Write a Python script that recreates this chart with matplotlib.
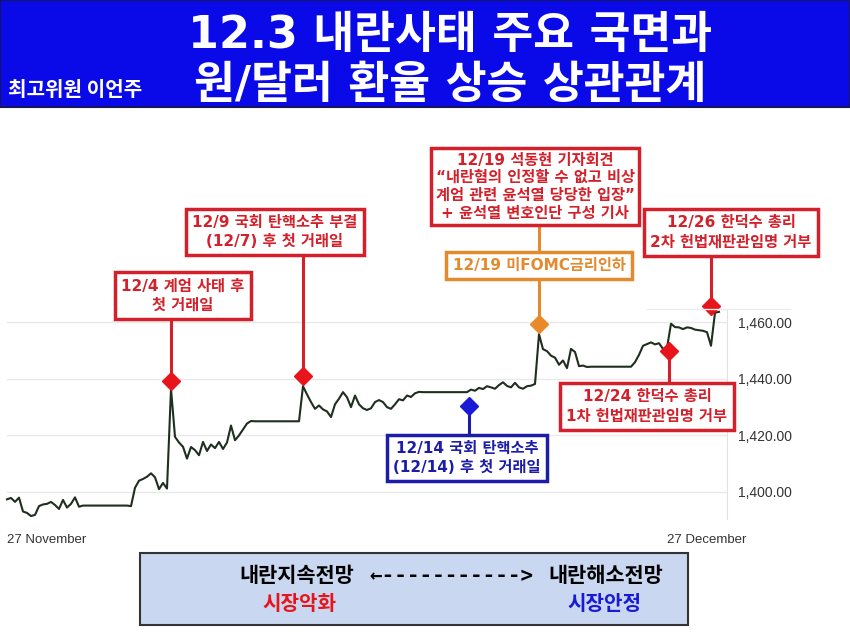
import numpy as np
import matplotlib
matplotlib.use("Agg")
from matplotlib import pyplot as plt
from matplotlib.patches import Rectangle
from matplotlib.lines import Line2D

plt.rcParams['font.family'] = ['Noto Sans CJK KR', 'DejaVu Sans']
WIDE = ['DejaVu Sans', 'Noto Sans CJK KR']   # wider digits / spaces, Hangul from Noto

# USD/KRW rate, 27 Nov -> 27 Dec (even sampling, weekends flat)
rate = [
    1397.4, 1397.9, 1396.5, 1398.0, 1393.1, 1392.6, 1391.5, 1391.9, 1395.0, 1395.6,
    1395.8, 1396.5, 1395.4, 1394.0, 1397.2, 1394.5, 1395.8, 1398.1, 1394.8, 1395.2,
    1395.2, 1395.2, 1395.2, 1395.2, 1395.2, 1395.2, 1395.2, 1395.2, 1395.2, 1395.2,
    1395.2, 1395.0, 1401.5, 1404.0, 1404.6, 1405.4, 1406.6, 1405.2, 1401.0, 1403.2,
    1401.2, 1436.5, 1419.5, 1417.5, 1416.0, 1411.8, 1415.9, 1414.8, 1413.0, 1417.7,
    1414.5, 1416.8, 1415.5, 1417.7, 1415.2, 1417.5, 1423.5, 1418.3, 1420.0, 1422.1,
    1424.2, 1425.1, 1425.0, 1425.0, 1425.0, 1425.0, 1425.0, 1425.0, 1425.0, 1425.0,
    1425.0, 1425.0, 1425.0, 1425.0, 1437.4, 1434.5, 1431.8, 1429.4, 1430.6, 1429.2,
    1428.5, 1426.5, 1431.0, 1433.0, 1435.3, 1433.5, 1430.0, 1434.1, 1431.0, 1429.6,
    1429.0, 1429.6, 1431.8, 1432.5, 1431.8, 1430.0, 1429.4, 1431.0, 1432.8, 1432.4,
    1434.1, 1433.6, 1434.9, 1435.4, 1435.3, 1435.3, 1435.3, 1435.3, 1435.3, 1435.3,
    1435.3, 1435.3, 1435.3, 1435.3, 1435.3, 1435.3, 1436.2, 1435.8, 1436.8, 1436.4,
    1437.4, 1437.0, 1436.5, 1437.8, 1438.8, 1437.5, 1437.0, 1438.6, 1437.0, 1436.5,
    1437.4, 1437.6, 1438.2, 1455.8, 1450.5, 1449.8, 1448.2, 1447.5, 1445.0, 1446.5,
    1443.8, 1450.6, 1449.5, 1444.5, 1444.7, 1444.2, 1444.3, 1444.3, 1444.3, 1444.3,
    1444.3, 1444.3, 1444.3, 1444.3, 1444.3, 1444.3, 1444.3, 1445.9, 1448.5, 1451.7,
    1452.3, 1452.9, 1452.2, 1452.6, 1450.6, 1451.0, 1459.5, 1458.3, 1458.2, 1457.6,
    1458.2, 1458.0, 1457.4, 1457.2, 1457.0, 1456.5, 1451.7, 1463.4, 1463.7,
]

y_ticks = [1400, 1420, 1440, 1460]
x_tick_pos = [0, 175]
x_tick_labels = ['27 November', '27 December']

# events: sample index and marker level
event_x = [41, 74, 115.5, 133, 165.5, 176]
event_y = [1439.4, 1440.9, 1430.3, 1459.5, 1449.7, 1465.8]
event_text = [
    '12/4 계엄 사태 후\n첫 거래일',
    '12/9 국회 탄핵소추 부결\n(12/7) 후 첫 거래일',
    '12/14 국회 탄핵소추\n(12/14) 후 첫 거래일',
    '12/19 미FOMC금리인하',
    '12/24 한덕수 총리\n1차 헌법재판관임명 거부',
    '12/26 한덕수 총리\n2차 헌법재판관임명 거부',
]
news_text = ('12/19 석동현 기자회견\n“내란혐의 인정할 수 없고 비상\n'
             '계엄 관련 윤석열 당당한 입장”\n+ 윤석열 변호인단 구성 기사')

RED = '#d3202a'
ORANGE = '#e3892e'
BLUE = '#1c1ca8'
event_color = [RED, RED, BLUE, ORANGE, RED, RED]
marker_color = ['#e8141c', '#e8141c', '#1a1ad6', '#e8892a', '#e8141c', '#e8141c']
# box centres (x index, y level)
box_pos = [(44, 1469.5), (67, 1492.0), (115, 1412.0), (133, 1480.0), (160, 1430.3), (181, 1491.8)]

W, H = 850, 637
fig = plt.figure(figsize=(W / 100, H / 100), dpi=100)

def fx(px):
    return px / W

def fy(py):
    return 1 - py / H

# header
fig.add_artist(Rectangle((0, fy(107)), 1, 107 / H, transform=fig.transFigure,
                         fc='#0a0ae8', ec='#151560', lw=1.5, zorder=0))
fig.text(fx(450), fy(35.5), '12.3 내란사태 주요 국면과', color='white', fontsize=32,
         fontweight='bold', ha='center', va='center', family=WIDE)
fig.text(fx(450), fy(85), '원/달러 환율 상승 상관관계', color='white', fontsize=32,
         fontweight='bold', ha='center', va='center', family=WIDE)
fig.text(fx(8), fy(89), '최고위원 이언주', color='white', fontsize=14.5,
         fontweight='bold', ha='left', va='center')

# chart
ax = fig.add_axes([fx(7), fy(519), fx(720), 209 / H])
x = np.arange(len(rate))
ax.plot(x, rate, color='#1f2e1f', lw=1.5, zorder=3, clip_on=False)
ax.set_xlim(0, 180)
ax.set_ylim(1390.45, 1464.35)
for s in ['top', 'left', 'bottom']:
    ax.spines[s].set_visible(False)
ax.spines['right'].set_color('#e2e2e2')
ax.yaxis.tick_right()
ax.set_yticks(y_ticks)
ax.set_yticklabels([f'{v:,.2f}' for v in y_ticks], family=['Liberation Sans', 'DejaVu Sans'])
ax.tick_params(axis='y', length=0, pad=8, labelsize=10, labelcolor='#333333')
ax.grid(axis='y', color='#e9e9e9', lw=1)
ax.set_xticks(x_tick_pos)
ax.set_xticklabels(x_tick_labels, family=['Liberation Sans', 'DejaVu Sans'])
ax.tick_params(axis='x', length=0, pad=11, labelsize=9.5, labelcolor='#333333')
ax.get_xticklabels()[0].set_ha('left')
ax.get_xticklabels()[0].set_x(-0.5)
fig.add_artist(Line2D([fx(647), fx(790)], [fy(309), fy(309)], transform=fig.transFigure,
                      color='#ececec', lw=1))

# connectors + markers + boxes
for ex, ey, col, mc, (bx, by) in zip(event_x, event_y, event_color, marker_color, box_pos):
    ax.plot([ex, ex], [ey, by], color=col, lw=2.2, zorder=4, clip_on=False)
    ax.plot(ex, ey, marker='D', ms=9, color=mc, zorder=6, clip_on=False)
for (bx, by), txt, col in zip(box_pos, event_text, event_color):
    ax.text(bx, by, txt, ha='center', va='center', fontsize=11, fontweight='bold',
            color=col, linespacing=1.35, zorder=7, clip_on=False, family=WIDE,
            bbox=dict(boxstyle='square,pad=0.4', fc='white', ec=col, lw=2.5))
ax.plot([133, 133], [1480.0, 1508.0], color=ORANGE, lw=2.2, zorder=4, clip_on=False)
ax.text(132, 1508.0, news_text, ha='center', va='center', fontsize=11, fontweight='bold',
        color=RED, linespacing=1.22, zorder=7, clip_on=False, family=WIDE,
        bbox=dict(boxstyle='square,pad=0.3', fc='white', ec=RED, lw=2.5))

# bottom legend box
fig.add_artist(Rectangle((fx(140), fy(625)), fx(548), 72 / H, transform=fig.transFigure,
                         fc='#c9d8f0', ec='#333333', lw=1.5))
fig.text(fx(297), fy(576), '내란지속전망', fontsize=15, fontweight='bold', ha='center', va='center')
fig.text(fx(451), fy(576), '←----------->', fontsize=15, fontweight='bold', ha='center', va='center',
         family=['DejaVu Sans Mono', 'DejaVu Sans'])
fig.text(fx(606), fy(576), '내란해소전망', fontsize=15, fontweight='bold', ha='center', va='center')
fig.text(fx(299), fy(604), '시장악화', fontsize=14.5, fontweight='bold', color='#e8141c',
         ha='center', va='center')
fig.text(fx(604), fy(604), '시장안정', fontsize=14.5, fontweight='bold', color='#1a1ad6',
         ha='center', va='center')

fig.savefig('out.png', dpi=100, facecolor='white')
